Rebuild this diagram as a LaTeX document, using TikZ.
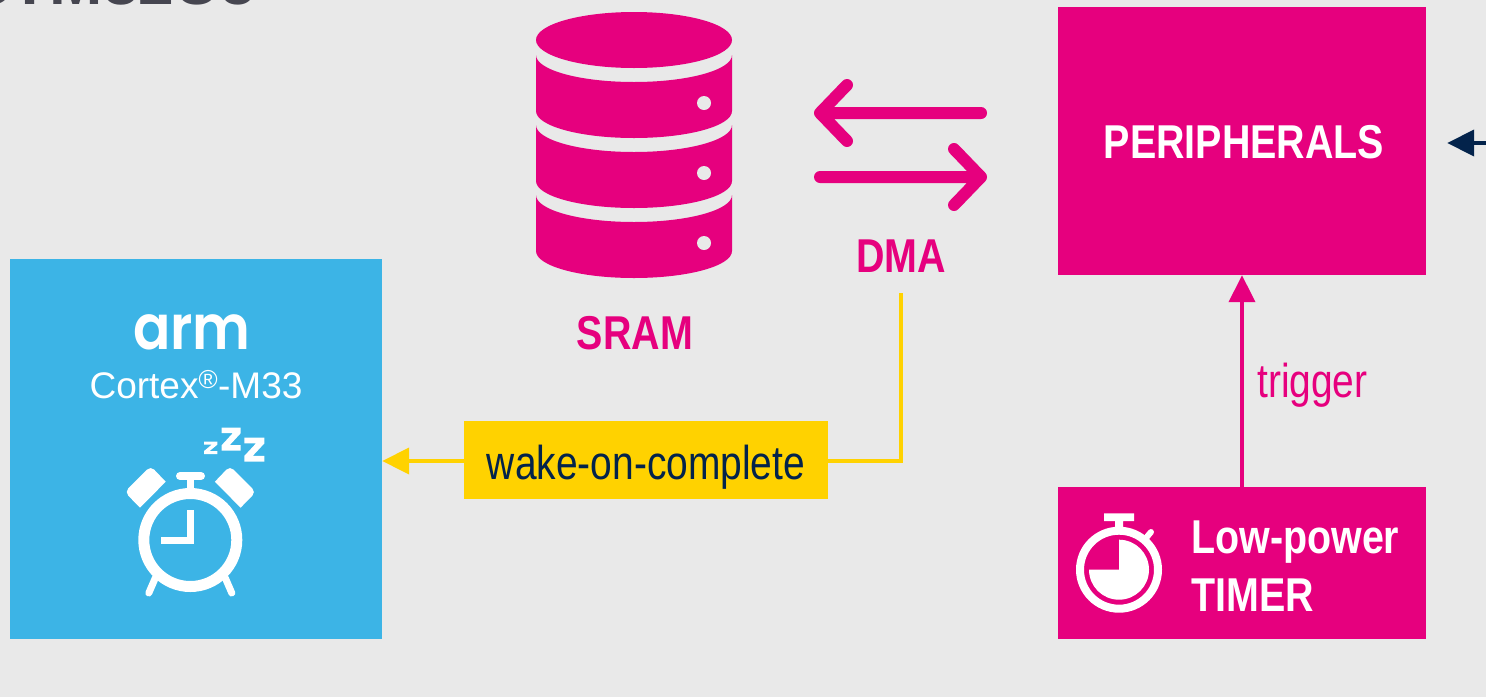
\documentclass[tikz,border=0pt]{standalone}
\usepackage{fontspec}
\setmainfont{Liberation Sans}
\newfontfamily\narrowfont[FakeStretch=.82]{Liberation Sans}
\newfontfamily\narrowboldfont[FakeStretch=.83]{Liberation Sans Bold}
\newfontfamily\armfont[FakeStretch=.89]{Poppins SemiBold}
\usetikzlibrary{
    arrows.meta
}
\definecolor{st pink}{HTML}{E6007E}
\definecolor{st blue}{HTML}{3CB4E6}
\definecolor{st yellow}{HTML}{FFD200}
\definecolor{st dark}{HTML}{03234B}
\definecolor{st grey}{HTML}{E9E9E9}
\definecolor{title grey}{HTML}{464650}
\tikzset{
    % Nodes
    pink box/.style={fill=st pink,text=white,inner sep=0pt,minimum width=368pt},
    big label/.style={font=\narrowfont\fontsize{47.5}{58}\selectfont,inner sep=0pt},
    bold label/.style={font=\narrowboldfont\fontsize{47.5}{58}\selectfont,inner sep=0pt},
    pink label/.style={bold label,text=st pink},
    %
    % Arrows
    flow tip/.tip={Triangle[length=27pt,width=26pt]},
    trigger arr/.style={-{flow tip},st pink,line width=4pt},
    wake line/.style={st yellow,line width=4pt},
    wake arr/.style={wake line,-{flow tip}},
    dma arr/.style={st pink,line width=12pt,line cap=round,line join=round},
    %
    % Icons
    icon line/.style={white,line width=7pt}
}
\begin{document}
\begin{tikzpicture}[x=1pt,y=-1pt]
    \fill[st grey] (0,0) rectangle (1486,697);
    \useasboundingbox (0,0) rectangle (1486,697);
    \node[font=\bfseries\fontsize{64}{64}\selectfont,text=title grey,anchor=base west,inner sep=0pt] (title) at (-32,4.5) {STM32U5};
    % boxes
    \node[fill=st blue,minimum width=372pt,minimum height=380pt,inner sep=0pt] (cortex) at (196,449) {};
    \node[pink box,bold label,minimum height=268pt,text height=34pt,text depth=0pt] (peripherals) at (1242,141) {\kern4pt PERIPHERALS};
    \node[pink box,minimum height=152pt] (timer) at (1242,563) {};
    \node[fill=st yellow,text=st dark,big label,minimum width=364pt,minimum height=78pt,text height=38pt,text depth=0pt] (wake) at (646,460) {wake-on-complete};
    % labels
    \node[pink label] (sram) at (635,333) {SRAM};
    \node[pink label,minimum height=74pt] (dma) at (901,256) {DMA};
    \node[big label,text=st pink,anchor=west] (trigger) at (1257,385) {trigger};
    \node[bold label,text=white,align=left,anchor=west] (timer text) at (1191,566) {Low-power\\TIMER};
    \node[text=white,font=\armfont\fontsize{62}{62}\selectfont,inner sep=0pt,anchor=base] (arm) at (192,349) {arm};
    \node[text=white,font=\fontsize{37}{40}\selectfont,inner sep=0pt,anchor=base] (cortex name) at (196,398) {Cortex\textsuperscript{®}-M33};
    % connectors
    \draw[trigger arr] (timer) -- (peripherals);
    \draw[wake line] (dma.south) |- ([yshift=-1pt]wake.east);
    \draw[wake arr] ([yshift=-1pt]wake.west) -- ([yshift=-1pt]cortex.east |- wake);
    \coordinate (host) at (1486,143);
    \draw[-{flow tip},st dark,line width=4pt,shorten >=21pt] (host) -- (peripherals.east |- host);
    % dma arrows
    \draw[dma arr] (981,113) -- (820,113) (847,85) -- (820,113) -- (847,141);
    \draw[dma arr] (820,177) -- (981,177) (954,149) -- (981,177) -- (954,205);
    % sram
    \fill[st pink] (634,40) ellipse[x radius=98,y radius=28];
    \foreach \y in {55,125,195}{
        \fill[st pink,shift={(536,\y)}] (0,0) .. controls (0,15) and (44,27) .. (98,27) .. controls (152,27) and (196,15) .. (196,0) -- (196,56) .. controls (196,71) and (152,83) .. (98,83) .. controls (44,83) and (0,71) .. (0,56) -- cycle;
        \fill[st grey] (704,\y+48) circle[radius=7];
    }
    % alarm clock
    \draw[white,line width=11pt] (190.3,540) circle[radius=46.5];
    \draw[icon line] (161,540.3) -- (190,540.3) -- (190,510);
    \draw[icon line] (190,480) -- (190,490);
    \draw[white,line width=8pt,line cap=round] (180,476) -- (201,476);
    \foreach \s in {-1,1}{
        \fill[white] (190.3+\s*24.6,481.7) [rounded corners=5pt] -- (190.3+\s*39.6,466) -- (190.3+\s*65.6,492) [sharp corners] -- (190.3+\s*50.3,507.7) -- cycle;
        \draw[icon line,line cap=round] (190.3+\s*35,578) -- (190.3+\s*41.5,593);
    }
    \foreach \x/\y/\w/\h in {204/441.7/13.3/12.3,221.7/427.7/19/23,244.3/437.7/20/24}{
        \fill[white,shift={(\x,\y)},x=\w pt,y=-\h pt] (0,0) -- (1,0) -- (1,.24) -- (.42,.76) -- (1,.76) -- (1,1) -- (0,1) -- (0,.76) -- (.58,.24) -- (0,.24) -- cycle;
    }
    % stopwatch
    \draw[white,line width=8pt] (1119,569.7) circle[radius=39];
    \fill[white] (1119,569.7) -- +(270:30) arc[start angle=270,end angle=540,radius=30] -- cycle;
    \fill[white] (1104,513.3) rectangle (1134,521) (1115,521) rectangle (1123,528);
    \draw[white,line width=6pt,line cap=round] (1146,538) -- (1151,532);
\end{tikzpicture}
\end{document}
